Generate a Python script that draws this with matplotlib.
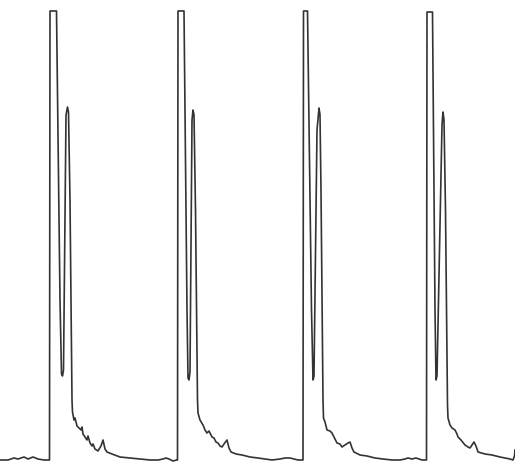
import numpy as np
import matplotlib
matplotlib.use("Agg")
import matplotlib.pyplot as plt

# recorder trace, four repeated injections (time in chart units, signal = pen deflection)
inj1 = [(0, 0), (8, 0), (14, 2), (18, 1), (24, 3), (28, 1), (33, 3), (38, 1), (44, 0), (49.5, 0),
        (50, 449), (56.5, 449),
        (60, 160), (61.5, 86), (62.5, 84), (63.5, 90),
        (66, 345), (67.5, 353), (68.5, 348), (70, 260), (72, 60), (72.5, 48),
        (74, 40), (75, 42), (77, 34), (79, 32), (81, 30), (82, 33), (83, 26), (85, 23), (87, 20),
        (88, 24), (90, 17), (92, 14), (93, 16), (95, 11), (98, 9), (101, 14), (103, 20), (105, 11),
        (107, 8), (112, 6), (120, 3), (130, 2), (140, 1), (150, 0), (158, 0), (163, 1), (166, 2),
        (169, 1), (173, -1), (176.5, 0)]

inj2 = [(177.5, 0), (178, 449), (184, 449), (187, 150), (188, 82), (189, 80), (190, 88),
        (192, 340), (193, 350), (194, 345), (195.5, 250), (197.5, 60), (198, 47),
        (200, 40), (203, 35), (205, 30), (207, 27), (209, 29), (212, 23), (214, 22), (216, 18),
        (218, 17), (220, 14), (222, 13), (224, 16), (227, 20), (229, 12), (231, 8), (236, 6),
        (242, 5), (250, 3), (258, 2), (265, 1), (272, 0), (280, 1), (285, 2), (290, 2), (294, 1),
        (298, 0), (302.5, 0)]

inj3 = [(303, 0), (303.5, 449), (307.5, 449), (311.5, 150), (313, 80), (314, 84),
        (317, 330), (319, 352), (320, 345), (321, 270), (323, 60), (323.5, 42),
        (325, 38), (327, 30), (330, 29), (332, 27), (334, 23), (337, 17), (340, 16), (342, 13),
        (345, 15), (348, 17), (350, 18), (352, 12), (354, 8), (360, 5), (367, 4), (375, 2),
        (383, 1), (392, 0), (400, 0), (405, 1), (408, 2), (412, 1), (416, 2), (419, 1), (422, 0),
        (425.5, 0)]

inj4 = [(426.5, 0), (427, 448), (432.5, 448), (435, 150), (436, 80), (437, 84),
        (442, 335), (443, 348), (444, 340), (445.5, 250), (447.5, 55), (448, 42),
        (450, 35), (452, 32), (455, 30), (457, 26), (458, 23), (461, 20), (465, 15), (468, 13),
        (470, 12), (472, 15), (474, 18), (476, 14), (478, 8), (485, 6), (492, 5), (500, 3),
        (505, 2), (510, 1), (513, 0), (514.5, 4), (515, 10)]

trace = np.array(inj1 + inj2 + inj3 + inj4, dtype=float)

fig = plt.figure(figsize=(5.15, 4.62), dpi=100)
ax = fig.add_axes([0, 0, 1, 1])
ax.plot(trace[:, 0], trace[:, 1], color='#333333', lw=1.2, solid_joinstyle='round')
ax.set_xlim(0, 515)
ax.set_ylim(-2, 460)
ax.axis('off')

fig.savefig('out.png', dpi=100, facecolor='white')
